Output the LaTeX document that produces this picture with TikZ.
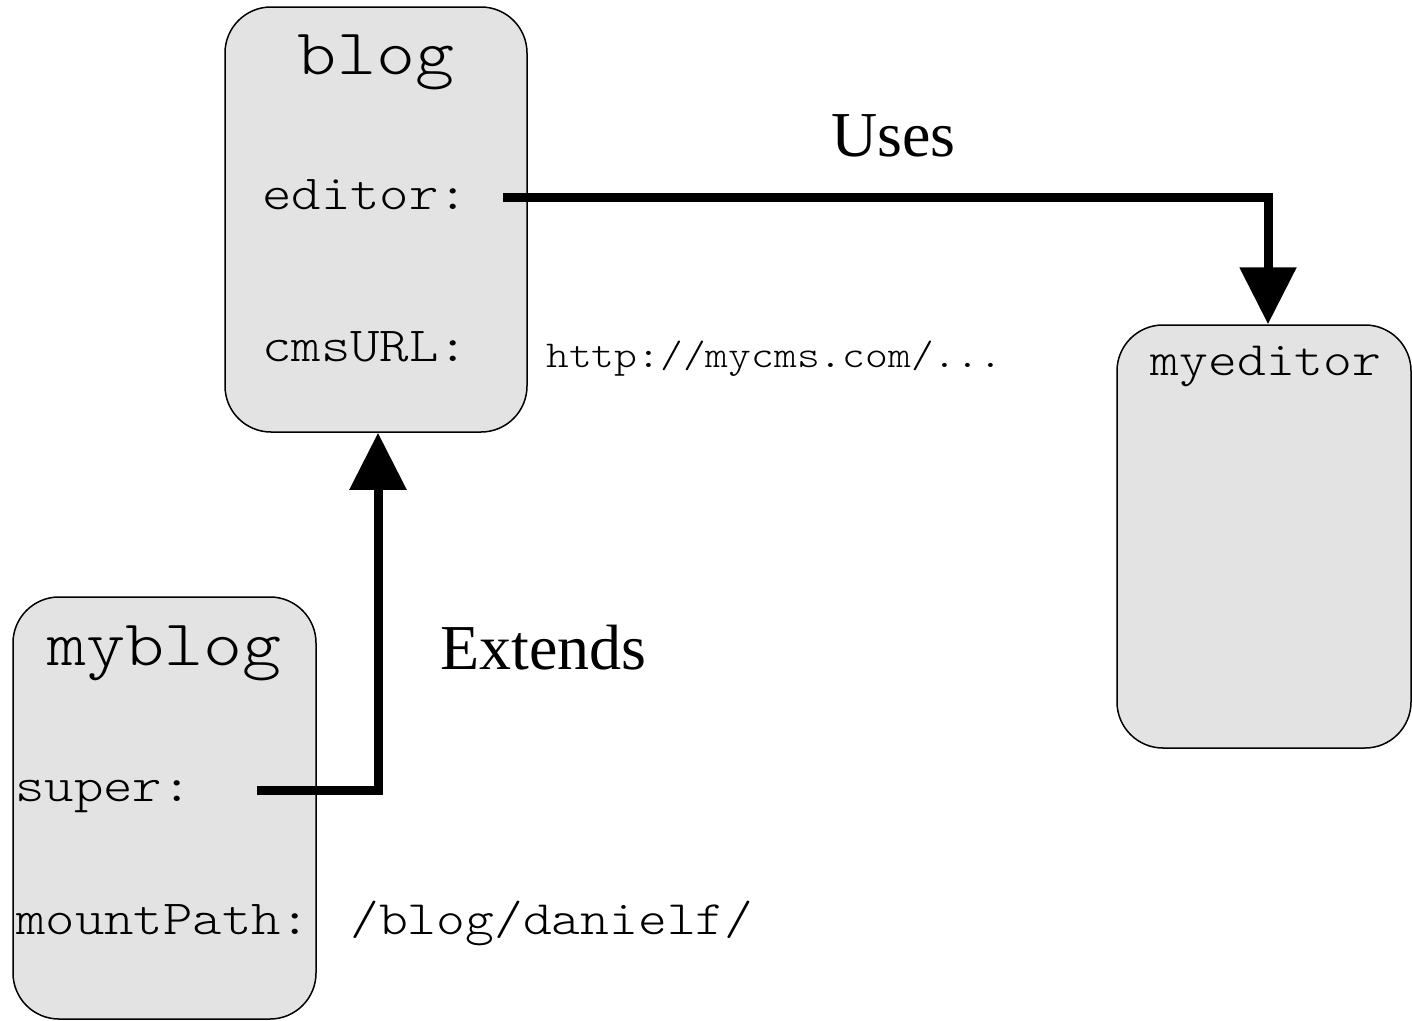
\documentclass[tikz,border=0pt]{standalone}
\usepackage{fontspec}
\setmainfont{Liberation Serif}
\setmonofont[FakeStretch=1.143]{Latin Modern Mono Light}
\usetikzlibrary{arrows.meta}
\definecolor{boxfill}{HTML}{E3E3E3}
\tikzset{
  objbox/.style={rectangle, draw=black, line width=1.5pt, fill=boxfill,
    rounded corners=46pt, inner sep=0pt},
  objtitle/.style={font=\ttfamily\fontsize{65}{65}\selectfont, anchor=base, inner sep=0pt},
  smalltitle/.style={font=\ttfamily\fontsize{48}{48}\selectfont, anchor=base, inner sep=0pt},
  field/.style={font=\ttfamily\fontsize{49}{49}\selectfont, anchor=base west, inner sep=0pt},
  fieldvalue/.style={font=\ttfamily\fontsize{48}{48}\selectfont, anchor=base west, inner sep=0pt},
  urlvalue/.style={font=\ttfamily\fontsize{38}{38}\selectfont, anchor=base west, inner sep=0pt},
  relation/.style={font=\fontsize{64}{64}\selectfont, anchor=base west, inner sep=0pt},
  link/.style={line width=9pt, -{Triangle[length=57pt,width=55pt]}},
}
\begin{document}
\begin{tikzpicture}[x=1pt,y=-1pt]
\useasboundingbox (0,0) rectangle (1412,1020);

% object boxes
\node[objbox, minimum width=302pt, minimum height=425pt] (blog) at (376,219.5) {};
\node[objbox, minimum width=303pt, minimum height=422pt] (myblog) at (164.5,808) {};
\node[objbox, minimum width=294pt, minimum height=423pt] (myeditor) at (1264,536.5) {};

% titles
\node[objtitle] (blogtitle) at (376,74) {blog};
\node[objtitle] (myblogtitle) at (164.5,665) {myblog};
\node[smalltitle] (myeditortitle) at (1266,375) {myeditor};

% slots
\node[field] (editor) at (262,209) {editor:};
\node[field] (cmsurl) at (262,361) {cmsURL:};
\node[field] (super) at (15,801) {super:};
\node[field] (mountpath) at (16,934) {mountPath:};

% slot values
\node[urlvalue] (cmsurlval) at (546,367) {http://mycms.com/...};
\node[fieldvalue] (mountval) at (350,934) {/blog/danielf/};

% relation labels
\node[relation] (uses) at (831,156) {Uses};
\node[relation] (extends) at (440,669) {Extends};

% connectors
\coordinate (usesstart) at (503,197);
\coordinate (extstart) at (257,790);
\draw[link] (usesstart) -| ([xshift=4pt]myeditor.north);
\draw[link] (extstart) -| ([xshift=2pt]blog.south);
\end{tikzpicture}
\end{document}
